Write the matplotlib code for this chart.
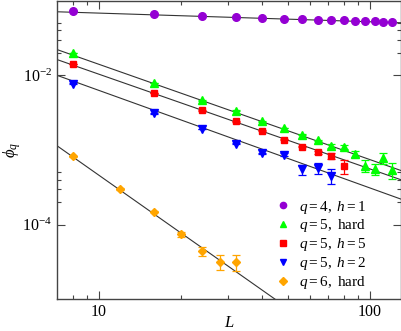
import numpy as np
import matplotlib
matplotlib.use("Agg")
import matplotlib.pyplot as plt
from matplotlib.lines import Line2D
from matplotlib.ticker import FixedLocator, FixedFormatter, NullFormatter, LogFormatterMathtext

plt.rcParams["font.family"] = ["Liberation Serif", "DejaVu Serif"]
plt.rcParams["mathtext.fontset"] = "custom"
plt.rcParams["mathtext.rm"] = "Liberation Serif"
plt.rcParams["mathtext.it"] = "Liberation Serif:italic"

# --- data ---
L_q4 = [8, 16, 24, 32, 40, 48, 56, 64, 72, 80, 88, 96, 104, 112, 120]
phi_q4 = [0.0724, 0.0653, 0.0620, 0.0600, 0.0589, 0.0572, 0.0560, 0.0555,
          0.0549, 0.0543, 0.0537, 0.0532, 0.0526, 0.0521, 0.0510]

L_q5hard = [8, 16, 24, 32, 40, 48, 56, 64, 72, 80, 88, 96, 104, 112, 120]
phi_q5hard = [0.0200, 0.00791, 0.00462, 0.00336, 0.00241, 0.00197, 0.00160,
              0.00135, 0.00113, 0.00109, 0.00089, 0.000614, 0.000551,
              0.000774, 0.000542]
err_q5hard = [1e-4, 5e-5, 4e-5, 3e-5, 2.5e-5, 2.5e-5, 2.5e-5, 3e-5, 7e-5,
              6.8e-5, 9e-5, 1.14e-4, 9e-5, 1.27e-4, 1.34e-4]

L_q5h5 = [8, 16, 24, 32, 40, 48, 56, 64, 72, 80]
phi_q5h5 = [0.01422, 0.00581, 0.00339, 0.00241, 0.00182, 0.00137, 0.00111,
            0.00094, 0.000835, 0.00061]
err_q5h5 = [1e-4, 5e-5, 3e-5, 2.5e-5, 2e-5, 2e-5, 2.5e-5, 4.3e-5, 8.8e-5, 1.26e-4]

L_q5h2 = [8, 16, 24, 32, 40, 48, 56, 64, 72]
phi_q5h2 = [0.00774, 0.00311, 0.00191, 0.00121, 0.000909, 0.000863, 0.000551,
            0.000568, 0.000453]
err_q5h2 = [6e-5, 3e-5, 2e-5, 1.5e-5, 1.5e-5, 4e-5, 8.5e-5, 9.3e-5, 1.05e-4]

L_q6hard = [8, 12, 16, 20, 24, 28, 32]
phi_q6hard = [0.000818, 0.000299, 0.0001494, 7.39e-5, 4.44e-5, 3.19e-5, 3.19e-5]
err_q6hard = [1.5e-5, 6e-6, 4e-6, 6.4e-6, 6.4e-6, 6.9e-6, 7.9e-6]

# power-law fits: phi = A * (L / 7) ** slope
fit_amp = [0.0710, 0.02213, 0.01626, 0.0100, 0.001139]
fit_slope = [-0.116, -1.277, -1.269, -1.307, -2.555]

labels = [r"$\mathit{q{=}4,\ h{=}1}$", r"$\mathit{q{=}5,}$ hard",
          r"$\mathit{q{=}5,\ h{=}5}$", r"$\mathit{q{=}5,\ h{=}2}$",
          r"$\mathit{q{=}6,}$ hard"]
colors = ["#9400d3", "#00ff00", "#ff0000", "#0000ff", "#ffa500"]
markers = ["o", "^", "s", "v", "D"]

fig = plt.figure(figsize=(4.02, 3.31), dpi=100)
ax = fig.add_axes([0.1418, 0.0958, 0.8557, 0.9022])
ax.set_xscale("log")
ax.set_yscale("log")

# fit lines
Lfit = np.array([7.0, 130.0])
for A, s in zip(fit_amp, fit_slope):
    ax.plot(Lfit, A * (Lfit / 7.0) ** s, color="#333333", lw=0.8, zorder=1)

ebkw = dict(capsize=3, elinewidth=0.9, capthick=0.9, zorder=3, ls="none")
ax.plot(L_q4, phi_q4, "o", color=colors[0], ms=5.5, zorder=3)
ax.errorbar(L_q5hard, phi_q5hard, yerr=err_q5hard, marker="^", color=colors[1], ms=5.5, **ebkw)
ax.errorbar(L_q5h5, phi_q5h5, yerr=err_q5h5, marker="s", color=colors[2], ms=4.8, **ebkw)
ax.errorbar(L_q5h2, phi_q5h2, yerr=err_q5h2, marker="v", color=colors[3], ms=5.5, **ebkw)
ax.errorbar(L_q6hard, phi_q6hard, yerr=err_q6hard, marker="D", color=colors[4], ms=4.2, **ebkw)

ax.set_xlim(7, 130)
ax.set_ylim(1e-5, 0.1)

ax.xaxis.set_major_locator(FixedLocator([10, 100]))
ax.xaxis.set_minor_locator(FixedLocator([8, 9, 20, 30, 40, 50, 60, 70, 80, 90]))
ax.xaxis.set_major_formatter(FixedFormatter(["10", "100"]))
ax.xaxis.set_minor_formatter(NullFormatter())
ax.yaxis.set_major_locator(FixedLocator([1e-4, 1e-2]))
ax.yaxis.set_minor_locator(FixedLocator([2e-4, 3e-4, 4e-4, 5e-4, 2e-2, 3e-2, 4e-2, 5e-2]))
ax.yaxis.set_major_formatter(LogFormatterMathtext())
ax.yaxis.set_minor_formatter(NullFormatter())

ax.tick_params(which="both", direction="in", top=True, right=True, labelsize=11.5,
               width=0.8, color="#444444")
ax.tick_params(which="major", length=5.5)
ax.tick_params(which="minor", length=3)
for sp in ax.spines.values():
    sp.set_linewidth(1.0)
    sp.set_color("#444444")

ax.set_xlabel(r"$L$", fontsize=12)
ax.xaxis.set_label_coords(0.5, -0.052)
ax.set_ylabel(r"$\phi_q$", fontsize=12)
ax.yaxis.set_label_coords(-0.098, 0.5)

handles = [Line2D([], [], ls="none", marker=m, color=c, ms=4.5) for m, c in zip(markers, colors)]
ax.legend(handles, labels, loc="upper left", bbox_to_anchor=(0.64, 0.337), frameon=False,
          fontsize=11, handlelength=0.8, handletextpad=0.6, labelspacing=0.12,
          borderpad=0.0, borderaxespad=0.0)

fig.savefig("out.png", dpi=100)
